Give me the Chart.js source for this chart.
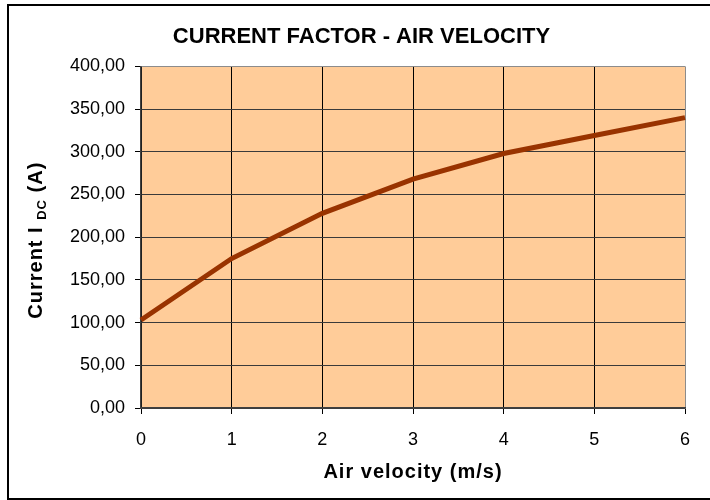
<!DOCTYPE html>
<html>
<head>
<meta charset="utf-8">
<script src="https://cdn.jsdelivr.net/npm/chart.js@4/dist/chart.umd.min.js"></script>
<style>
html,body{margin:0;padding:0;background:#fff;}
#c{display:block;}
</style>
</head>
<body>
<canvas id="c" width="710" height="500"></canvas>
<script>
const chartTitle = 'CURRENT FACTOR - AIR VELOCITY';
const xTitle = 'Air velocity (m/s)';
const yTitleMain = 'Current I';
const yTitleSub = 'DC';
const yTitleEnd = ' (A)';
const velocities = ['0', '1', '2', '3', '4', '5', '6'];
const currents = [103, 175, 228, 268, 298, 319, 340];
const yMin = 0, yMax = 400, yStep = 50;

const FONT = 'Arial, "Liberation Sans", sans-serif';

const decorPlugin = {
  id: 'decor',
  beforeDraw(chart) {
    const ctx = chart.ctx, a = chart.chartArea;
    ctx.save();
    ctx.fillStyle = '#ffffff';
    ctx.fillRect(0, 0, chart.width, chart.height);
    ctx.fillStyle = '#FFCC99';
    ctx.fillRect(a.left, a.top, a.right - a.left, a.bottom - a.top);
    ctx.strokeStyle = '#000';
    ctx.lineWidth = 2;
    ctx.strokeRect(8, 5, chart.width + 10, 494);
    ctx.restore();
  },
  afterDraw(chart) {
    const ctx = chart.ctx, a = chart.chartArea;
    ctx.save();
    ctx.fillStyle = '#000';
    ctx.letterSpacing = '1px';
    // x title
    ctx.font = 'bold 20px ' + FONT;
    ctx.textAlign = 'center';
    ctx.textBaseline = 'middle';
    ctx.fillText(xTitle, (a.left + a.right) / 2, 472);
    // y title with subscript
    ctx.textAlign = 'left';
    ctx.textBaseline = 'alphabetic';
    const mainFont = 'bold 20px ' + FONT, subFont = 'bold 13px ' + FONT;
    ctx.font = mainFont;
    const w1 = ctx.measureText(yTitleMain + ' ').width;
    const w3 = ctx.measureText(yTitleEnd).width;
    ctx.font = subFont;
    const w2 = ctx.measureText(yTitleSub).width;
    const total = w1 + w2 + w3;
    ctx.translate(35, (a.top + a.bottom) / 2 + 3);
    ctx.rotate(-Math.PI / 2);
    let x = -total / 2;
    const base = 7;
    ctx.font = mainFont;
    ctx.fillText(yTitleMain + ' ', x, base);
    x += w1;
    ctx.font = subFont;
    ctx.fillText(yTitleSub, x, base + 4);
    x += w2;
    ctx.font = mainFont;
    ctx.fillText(yTitleEnd, x, base);
    ctx.restore();
  }
};

new Chart(document.getElementById('c'), {
  type: 'line',
  data: {
    labels: velocities,
    datasets: [{
      data: currents,
      borderColor: '#993300',
      borderWidth: 5,
      pointRadius: 0,
      tension: 0,
      fill: false
    }]
  },
  options: {
    responsive: false,
    animation: false,
    devicePixelRatio: 1,
    layout: { padding: { left: 38, right: 25, top: 0, bottom: 0 } },
    plugins: {
      legend: { display: false },
      tooltip: { enabled: false },
      title: {
        display: true,
        text: chartTitle,
        color: '#000',
        font: { family: FONT, size: 22, weight: 'bold', lineHeight: 1.2 },
        padding: { top: 24, bottom: 16 }
      }
    },
    scales: {
      x: {
        type: 'category',
        offset: false,
        grid: {
          color: (c) => c.index === velocities.length - 1 ? '#8c8c8c' : '#000',
          tickColor: '#000',
          lineWidth: 1,
          tickLength: 6,
          drawTicks: true
        },
        border: { color: '#404040', width: 1.5 },
        ticks: {
          color: '#000',
          font: { family: FONT, size: 18 },
          padding: 15,
          maxRotation: 0
        },
        afterFit(scale) { scale.height = 92; }
      },
      y: {
        min: yMin,
        max: yMax,
        grid: {
          color: (c) => c.tick && c.tick.value === yMax ? '#8c8c8c' : '#3a3a3a',
          tickColor: '#000',
          lineWidth: 1,
          tickLength: 6
        },
        border: { color: '#404040', width: 1.5 },
        ticks: {
          stepSize: yStep,
          color: '#000',
          font: { family: FONT, size: 18 },
          padding: 10,
          callback: (v) => Number(v).toFixed(2).replace('.', ',')
        },
        afterFit(scale) { scale.width = 103; }
      }
    }
  },
  plugins: [decorPlugin]
});
</script>
</body>
</html>
